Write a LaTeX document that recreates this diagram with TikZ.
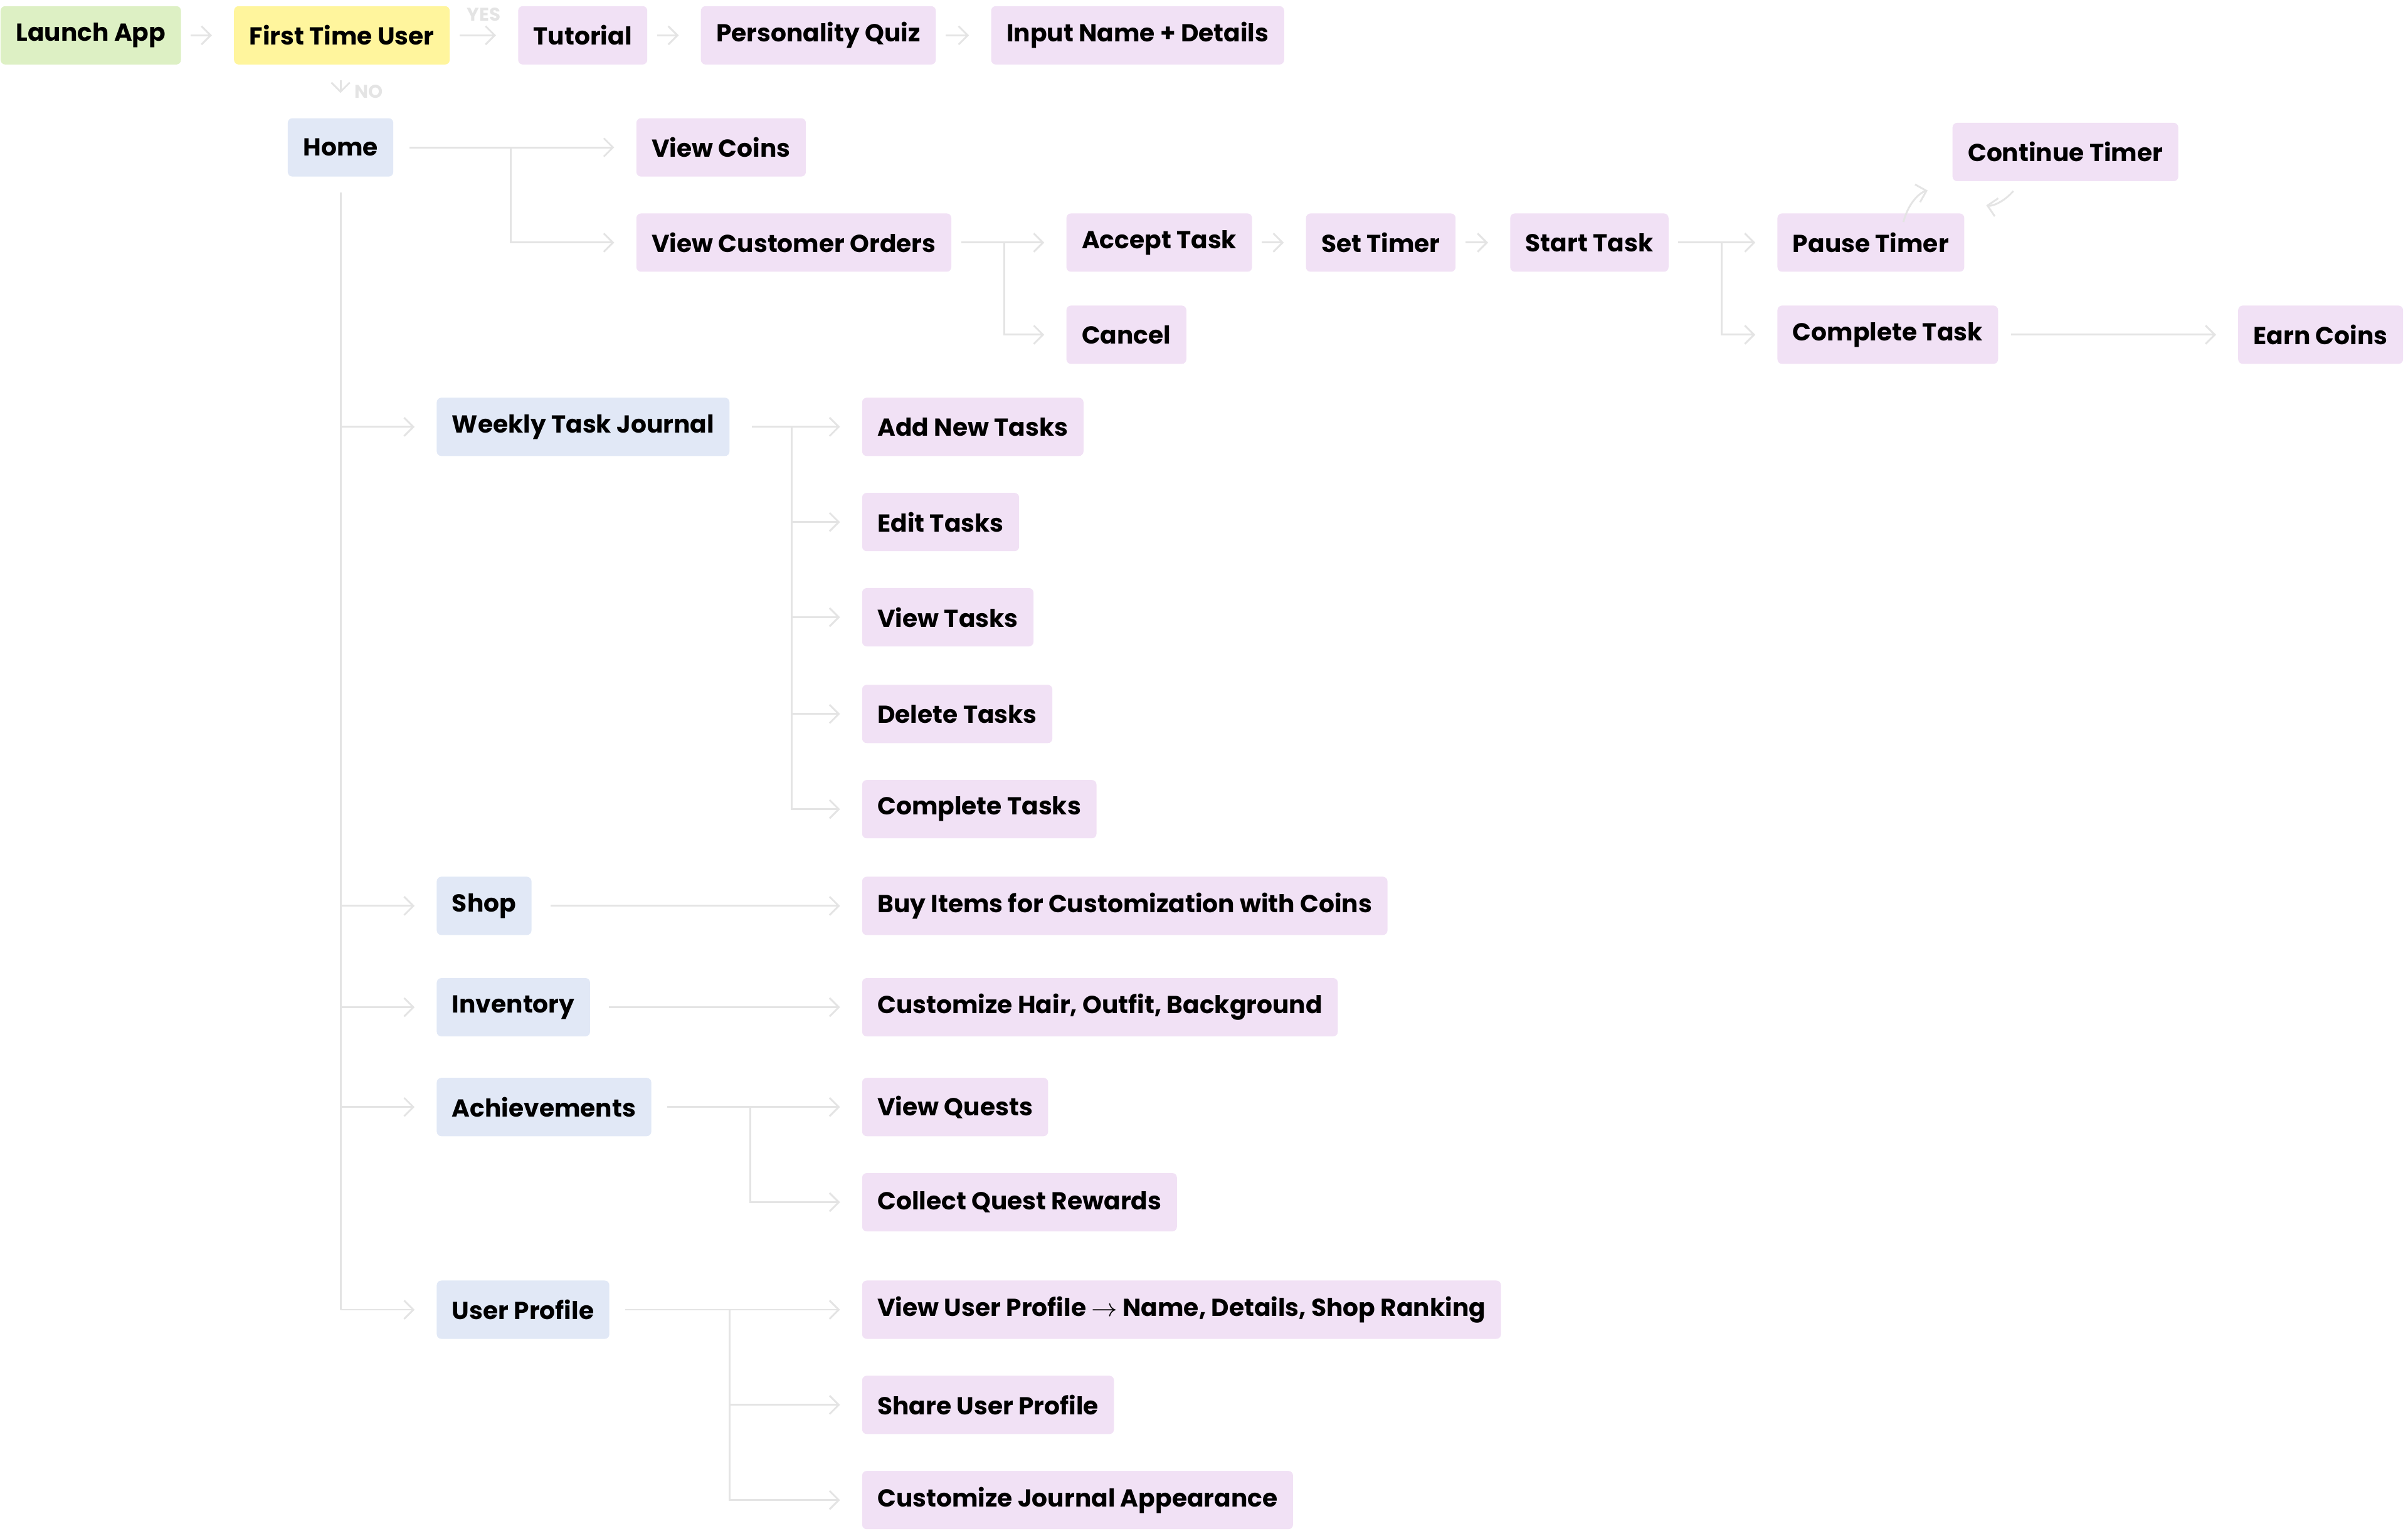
\documentclass[tikz,border=0pt]{standalone}
\usepackage{fontspec}
\setmainfont{Poppins}
\usetikzlibrary{arrows.meta}
\definecolor{startgreen}{HTML}{DDF0C4}
\definecolor{askyellow}{HTML}{FFF59D}
\definecolor{stepviolet}{HTML}{F1E1F5}
\definecolor{menublue}{HTML}{E1E8F6}
\definecolor{linegray}{HTML}{E4E4E4}
\tikzset{
  box/.style={anchor=west, rounded corners=1.5pt, minimum height=19pt, inner xsep=5pt,
    font=\fontsize{8}{9}\selectfont\bfseries, text=black},
  action/.style={box, fill=stepviolet},
  menu/.style={box, fill=menublue},
  line/.style={draw=linegray, line width=0.6pt},
  conn/.style={line, -{Straight Barb[length=3pt,width=6pt]}, shorten >=7pt},
  tag/.style={font=\fontsize{6}{7}\selectfont\bfseries, text=linegray}
}
\begin{document}
\begin{tikzpicture}[x=0.5pt, y=-0.5pt]
\useasboundingbox (0,0) rectangle (1568,997);
% Start row
    \node[box, fill=startgreen] (launch) at (0,23) {Launch App};
    \node[box, fill=askyellow] (first) at (152,23) {First Time User};
    \node[action] (tutorial) at (337,23) {Tutorial};
    \node[action] (quiz) at (456,23) {Personality Quiz};
    \node[action] (input) at (645,23) {Input Name + Details};
% Home and its menus
    \node[menu] (home) at (187,96) {Home};
    \node[menu] (journal) at (284,278) {Weekly Task Journal};
    \node[menu] (shop) at (284,590) {Shop};
    \node[menu] (inventory) at (284,656) {Inventory};
    \node[menu] (achieve) at (284,721) {Achievements};
    \node[menu] (profile) at (284,853) {User Profile};
% Orders
    \node[action] (coins) at (414,96) {View Coins};
    \node[action] (orders) at (414,158) {View Customer Orders};
    \node[action] (accept) at (694,158) {Accept Task};
    \node[action] (cancel) at (694,218) {Cancel};
    \node[action] (settimer) at (850,158) {Set Timer};
    \node[action] (start) at (983,158) {Start Task};
    \node[action] (pause) at (1157,158) {Pause Timer};
    \node[action] (continue) at (1271,99) {Continue Timer};
    \node[action] (complete) at (1157,218) {Complete Task};
    \node[action] (earn) at (1457,218) {Earn Coins};
% Journal
    \node[action] (addtasks) at (561,278) {Add New Tasks};
    \node[action] (edittasks) at (561,340) {Edit Tasks};
    \node[action] (viewtasks) at (561,402) {View Tasks};
    \node[action] (deltasks) at (561,465) {Delete Tasks};
    \node[action] (donetasks) at (561,527) {Complete Tasks};
% Other menus
    \node[action] (buy) at (561,590) {Buy Items for Customization with Coins};
    \node[action] (custom) at (561,656) {Customize Hair, Outfit, Background};
    \node[action] (quests) at (561,721) {View Quests};
    \node[action] (rewards) at (561,783) {Collect Quest Rewards};
    \node[action] (viewprofile) at (561,853) {View User Profile $\rightarrow$ Name, Details, Shop Ranking};
    \node[action] (share) at (561,915) {Share User Profile};
    \node[action] (appearance) at (561,977) {Customize Journal Appearance};
% Start row arrows
    \draw[conn, shorten <=3pt] (launch) -- (first);
    \draw[conn, shorten <=3pt] (first) -- node[tag, above=1pt] {YES} (tutorial);
    \draw[conn, shorten <=3pt] (tutorial) -- (quiz);
    \draw[conn, shorten <=3pt] (quiz) -- (input);
    \draw[conn, shorten <=5pt, shorten >=8pt] (first.south -| home) -- node[tag, right=1pt] {NO} (home);
% Home trunk
    \draw[line] ([yshift=-5pt]home.south) -- (home.south |- profile.west);
    \foreach \m in {journal, shop, inventory, achieve, profile}
        \draw[conn] (home.south |- \m.west) -- (\m.west);
% Orders
    \draw[conn, shorten <=5pt] (home) -- (coins);
    \draw[conn] ([xshift=38pt]home.east) |- (orders.west);
    \draw[conn, shorten <=3pt] (orders) -- (accept);
    \draw[conn] ([xshift=17pt]orders.east) |- (cancel.west);
    \draw[conn, shorten <=3pt] (accept) -- (settimer);
    \draw[conn, shorten <=3pt] (settimer) -- (start);
    \draw[conn, shorten <=3pt] (start) -- (pause);
    \draw[conn] ([xshift=17pt]start.east) |- (complete.west);
    \draw[conn, shorten <=4pt] (complete) -- (earn);
    \draw[conn, shorten >=3pt] ([xshift=-20pt,yshift=-3pt]pause.north east) to[bend left=30] ([xshift=-5pt,yshift=-2pt]continue.south west);
    \draw[conn, shorten >=3pt] ([xshift=20pt,yshift=-3pt]continue.south west) to[bend left=30] ([xshift=4pt,yshift=3pt]pause.north east);
% Journal
    \draw[conn, shorten <=7pt] (journal) -- (addtasks);
    \foreach \t in {edittasks, viewtasks, deltasks, donetasks}
        \draw[conn] ([xshift=20pt]journal.east) |- (\t.west);
% Other menus
    \draw[conn, shorten <=6pt] (shop) -- (buy);
    \draw[conn, shorten <=6pt] (inventory) -- (custom);
    \draw[conn, shorten <=5pt] (achieve) -- (quests);
    \draw[conn] ([xshift=32pt]achieve.east) |- (rewards.west);
    \draw[conn, shorten <=5pt] (profile) -- (viewprofile);
    \foreach \t in {share, appearance}
        \draw[conn] ([xshift=39pt]profile.east) |- (\t.west);
\end{tikzpicture}
\end{document}
